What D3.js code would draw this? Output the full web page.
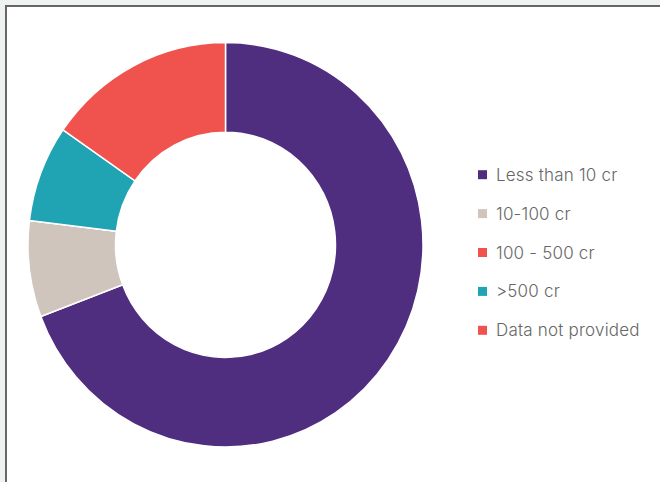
<!DOCTYPE html>
<html>
<head>
<meta charset="utf-8">
<script src="https://cdn.jsdelivr.net/npm/d3@7"></script>
<style>
  html, body { margin: 0; padding: 0; background: #eef3f1; }
  svg { display: block; }
</style>
</head>
<body>
<svg id="chart" width="660" height="482"></svg>
<script>
// Company size buckets (turnover) and number of companies in each
const categories = ["Less than 10 cr", "10-100 cr", "100 - 500 cr", ">500 cr", "Data not provided"];
const values = [90, 10, 0, 10, 20];
const colors = ["#4f2d7f", "#cfc5bd", "#f0534e", "#20a4b3", "#f0534e"];

const svg = d3.select("#chart");
const W = 660, H = 482;

// white panel with a dark top/left frame edge
svg.append("rect").attr("x", 6).attr("y", 6).attr("width", W).attr("height", H).attr("fill", "#fff");
svg.append("line").attr("x1", 6).attr("x2", W).attr("y1", 6).attr("y2", 6)
  .attr("stroke", "#666").attr("stroke-width", 2);
svg.append("line").attr("x1", 6).attr("x2", 6).attr("y1", 5).attr("y2", H)
  .attr("stroke", "#666").attr("stroke-width", 2);

// donut
const cx = 225.5, cy = 244.8;
const outerR = 197.5, innerR = 110;
const pie = d3.pie().value(d => d).sort(null);
const arc = d3.arc().innerRadius(innerR).outerRadius(outerR);

const g = svg.append("g").attr("transform", `translate(${cx},${cy}) scale(1,1.024)`);
g.selectAll("path")
  .data(pie(values))
  .join("path")
  .attr("d", arc)
  .attr("fill", (d, i) => colors[i])
  .attr("stroke", "#fff")
  .attr("stroke-width", 1.5)
  .attr("vector-effect", "non-scaling-stroke");

// legend
const legendY = d3.scalePoint().domain(categories).range([180.7, 336.3]);
const lg = svg.append("g");
const item = lg.selectAll("g").data(categories).join("g")
  .attr("transform", d => `translate(478,${legendY(d)})`);
item.append("rect")
  .attr("x", 0).attr("y", -10.5).attr("width", 9).attr("height", 9)
  .attr("fill", (d, i) => colors[i]);
item.append("text")
  .attr("x", 18).attr("y", 0)
  .attr("font-family", "Inter, 'Noto Sans', sans-serif")
  .attr("font-size", 17)
  .attr("font-weight", 300)
  .attr("letter-spacing", 0.2)
  .attr("fill", "#666")
  .text(d => d);
</script>
</body>
</html>
